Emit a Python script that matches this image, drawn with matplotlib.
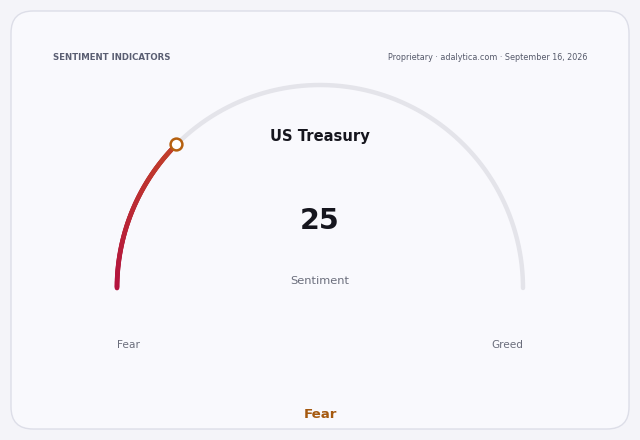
import numpy as np
from matplotlib import pyplot as plt
from matplotlib.collections import LineCollection
from matplotlib.colors import to_rgb
from matplotlib.patches import FancyBboxPatch

title = "US Treasury"
value = 25
vmin, vmax = 0, 100
mood = "Fear"
left_label, right_label = "Fear", "Greed"
header = "SENTIMENT INDICATORS"
source = "Proprietary · adalytica.com · September 16, 2026"

fig = plt.figure(figsize=(6.4, 4.4), dpi=100)
fig.patch.set_facecolor('#f4f4f9')
ax = fig.add_axes([0, 0, 1, 1])
ax.set_xlim(0, 640)
ax.set_ylim(440, 0)
ax.set_aspect('equal')
ax.axis('off')

card = FancyBboxPatch((11, 11), 618, 418, boxstyle="round,pad=0,rounding_size=22",
                      facecolor='#f9f9fd', edgecolor='#dddee8', linewidth=1.0)
ax.add_patch(card)

cx, cy, r = 320, 288, 203

# background track
t = np.linspace(np.pi, 0, 300)
ax.plot(cx + r * np.cos(t), cy - r * np.sin(t), color='#e4e4ea', lw=3.2,
        solid_capstyle='round', zorder=2)

# value arc, red to orange-red
frac = (value - vmin) / (vmax - vmin)
end = np.pi * (1 - frac)
t = np.linspace(np.pi, end, 120)
xs, ys = cx + r * np.cos(t), cy - r * np.sin(t)
pts = np.column_stack([xs, ys]).reshape(-1, 1, 2)
segs = np.concatenate([pts[:-1], pts[1:]], axis=1)
c0, c1 = np.array(to_rgb('#b3123f')), np.array(to_rgb('#c2402a'))
k = np.linspace(0, 1, len(segs))[:, None]
lc = LineCollection(segs, colors=c0 * (1 - k) + c1 * k, linewidths=3.4,
                    capstyle='round', zorder=3)
ax.add_collection(lc)
ax.plot(xs[-1], ys[-1], 'o', ms=8.5, mfc='white', mec='#b5600f', mew=1.8, zorder=4)

ax.text(53, 57, header, fontsize=6.2, fontweight='bold', color='#5a5e72',
        ha='left', va='center')
ax.text(587, 57, source, fontsize=5.8, color='#55596a', ha='right', va='center')
ax.text(cx, 137, title, fontsize=10.6, fontweight='bold', color='#16161e',
        ha='center', va='center')
ax.text(cx, 221, str(value), fontsize=20.5, fontweight='bold', color='#16161e',
        ha='center', va='center')
ax.text(cx, 281, "Sentiment", fontsize=8.2, color='#6b6e7c', ha='center', va='center')
ax.text(128, 345, left_label, fontsize=7.7, color='#6b6e7c', ha='center', va='center')
ax.text(507, 345, right_label, fontsize=7.6, color='#6b6e7c', ha='center', va='center')
ax.text(cx, 414, mood, fontsize=9.6, fontweight='bold', color='#a5590f',
        ha='center', va='center')

fig.savefig('out.png', dpi=100, facecolor=fig.get_facecolor())
